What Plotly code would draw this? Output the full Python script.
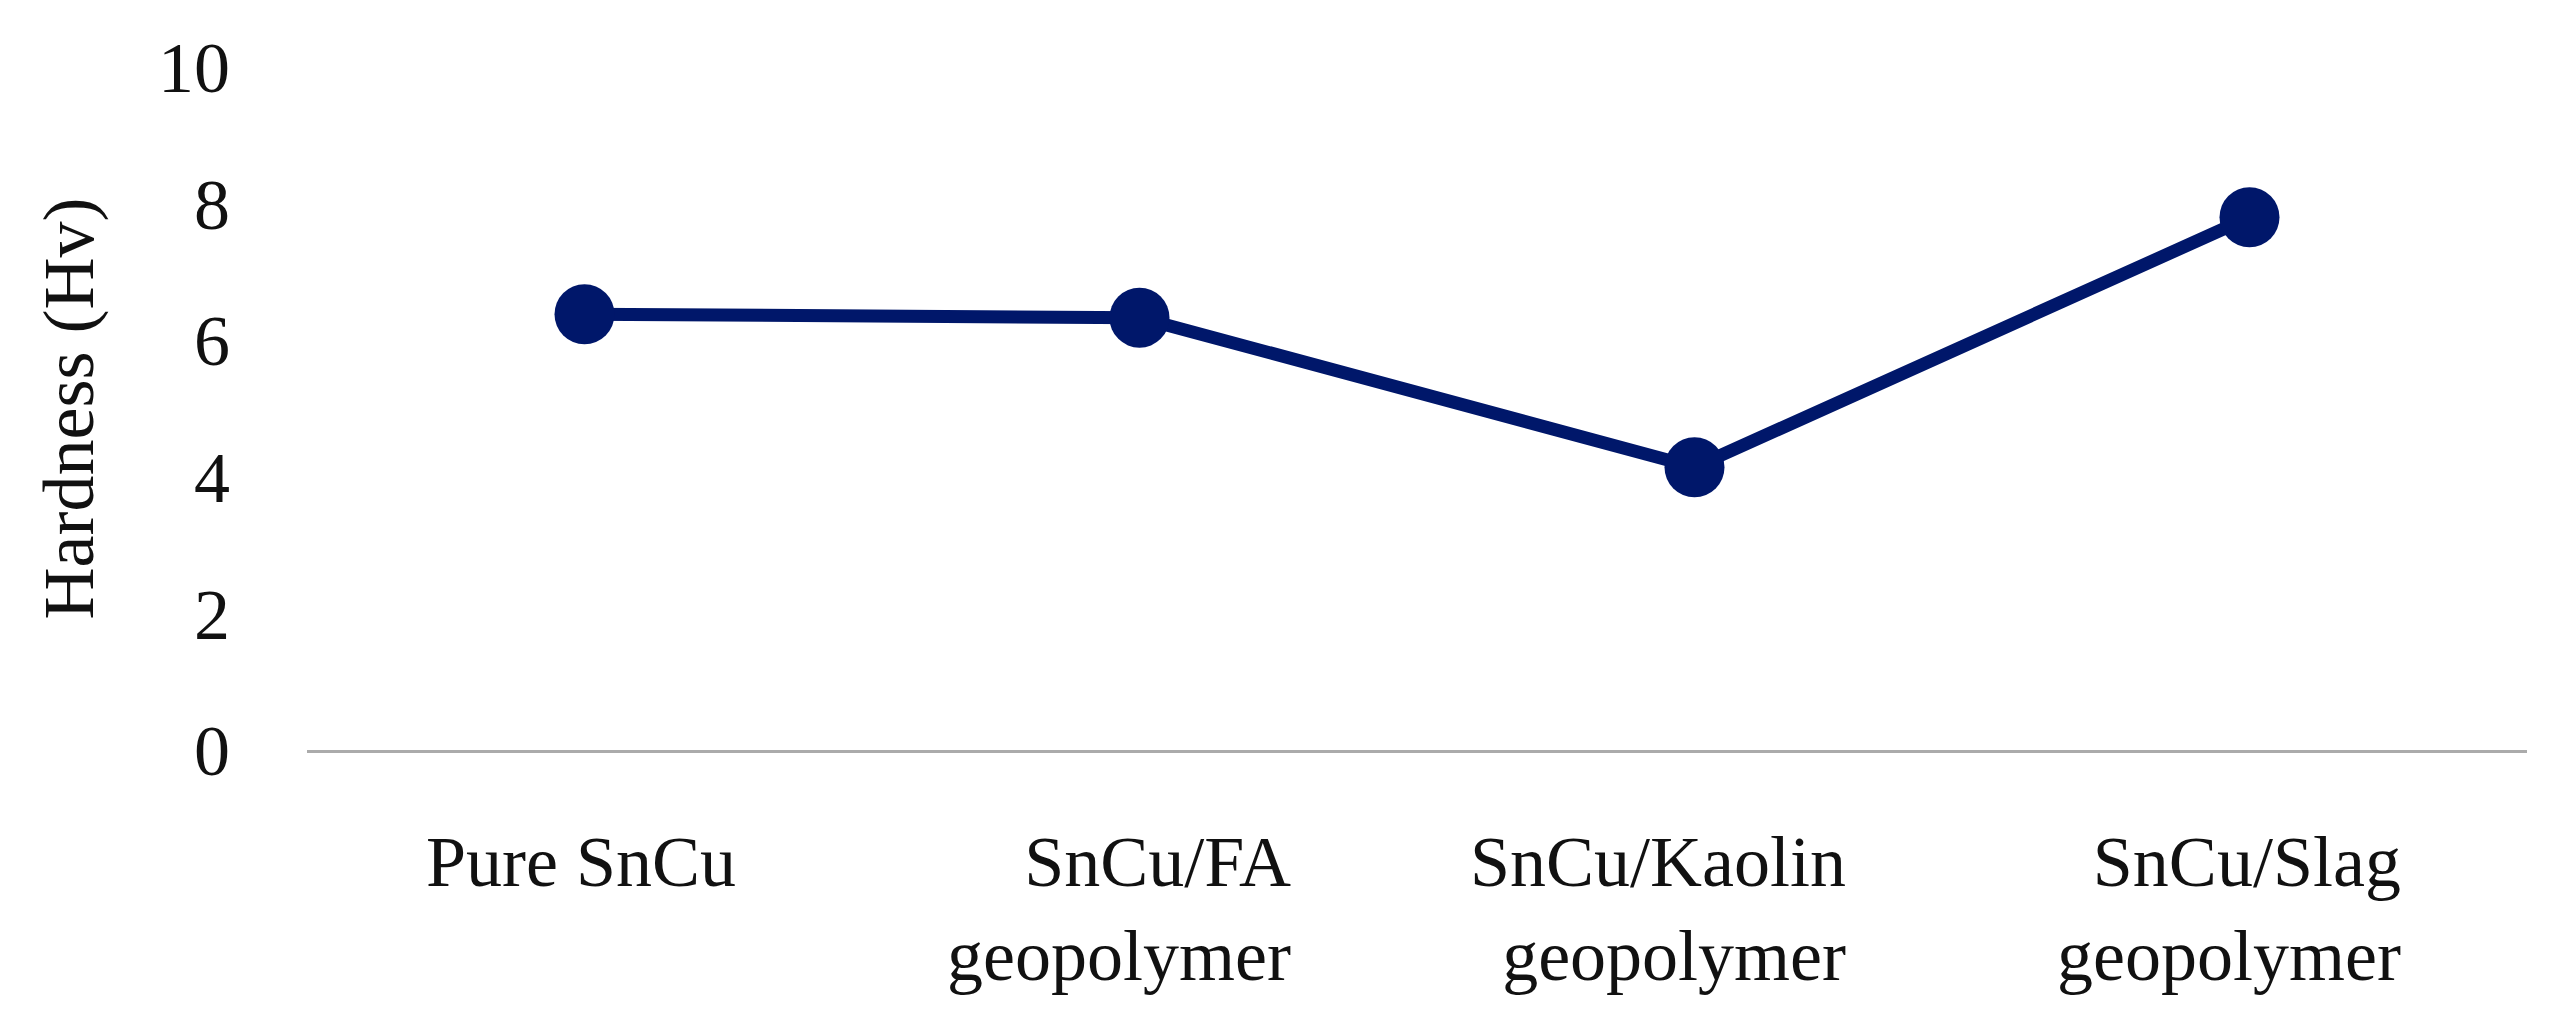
import plotly.graph_objects as go

categories = ["Pure SnCu", "SnCu/FA geopolymer", "SnCu/Kaolin geopolymer", "SnCu/Slag geopolymer"]
label_line1 = ["Pure SnCu", "SnCu/FA", "SnCu/Kaolin", "SnCu/Slag"]
label_line2 = ["", "geopolymer", "geopolymer", "geopolymer"]
hardness = [6.38, 6.33, 4.14, 7.80]
y_ticks = [0, 2, 4, 6, 8, 10]

FONT = "Liberation Serif, Times New Roman, serif"
NAVY = "#00176A"

fig = go.Figure()
fig.add_trace(go.Scatter(
    x=categories, y=hardness, mode="lines+markers",
    line=dict(color=NAVY, width=13),
    marker=dict(color=NAVY, size=60),
    showlegend=False,
))

for cat, l1, l2 in zip(categories, label_line1, label_line2):
    txt = l1 if not l2 else f"{l1}<br>{l2}"
    fig.add_annotation(
        x=cat, xref="x", y=0, yref="paper", yanchor="top",
        xanchor="right", align="right", xshift=153, yshift=-70,
        text=txt, showarrow=False,
        font=dict(family=FONT, size=72, color="#111111"),
    )

fig.update_layout(
    width=2553, height=1017,
    margin=dict(l=307, r=26, t=67, b=267, autoexpand=False),
    paper_bgcolor="white", plot_bgcolor="white",
    font=dict(family=FONT, size=72, color="#111111"),
)
fig.update_xaxes(
    type="category", range=[-0.5, 3.5], showticklabels=False,
    showline=True, linecolor="#ABABAB", linewidth=3,
    showgrid=False, zeroline=False, ticks="", automargin=False,
)
fig.update_yaxes(
    range=[0, 10], tickvals=y_ticks, showgrid=False, zeroline=False,
    showline=False, ticks="", ticklabelstandoff=76, automargin=False,
    title=dict(text="Hardness (Hv)", standoff=40, font=dict(family=FONT, size=72)),
)

fig.write_html(
    "out.html",
    config={"displayModeBar": False},
    post_script="document.body.style.margin='0';document.body.style.overflow='hidden';",
)
